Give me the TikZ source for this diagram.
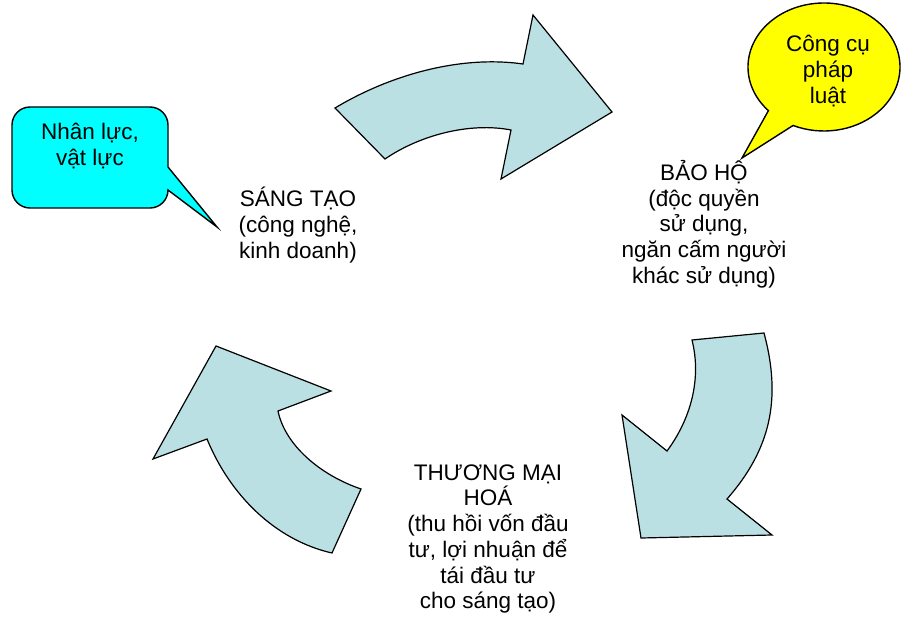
\documentclass[tikz,border=0pt]{standalone}
\usepackage{fontspec}
\setmainfont{Liberation Sans}
\definecolor{arrowfill}{HTML}{BBE0E3}
\definecolor{calloutcyan}{HTML}{00FFFF}
\definecolor{calloutyellow}{HTML}{FFFF00}
\begin{document}
\begin{tikzpicture}[x=1pt,y=-1pt,
  bigarrow/.style={fill=arrowfill,draw=black,line width=1.2pt,line join=miter},
  callout/.style={draw=black,line width=1.4pt,line join=miter},
  lbl/.style={align=center,font=\fontsize{22.5}{25.7}\selectfont,inner sep=0pt,text=black}]
\useasboundingbox (0,0) rectangle (902,620);
\fill[white] (0,0) rectangle (902,620);

% top arrow (SANG TAO -> BAO HO)
\draw[bigarrow] (335,108) .. controls (390,75) and (460,55) .. (523,64)
  -- (533,15) -- (612,112) -- (501,179) -- (511,130)
  .. controls (470,122) and (420,135) .. (385,159) -- cycle;

% right arrow (BAO HO -> THUONG MAI HOA)
\draw[bigarrow] (692,340) -- (764,333)
  .. controls (782,400) and (770,450) .. (727,499)
  -- (772,535) -- (641,538) -- (622,415) -- (667,451)
  .. controls (690,420) and (702,380) .. (692,340) -- cycle;

% left arrow (THUONG MAI HOA -> SANG TAO)
\draw[bigarrow] (332,553) -- (361,489)
  .. controls (320,475) and (285,445) .. (278,411)
  -- (331,391) -- (216,346) -- (153,459) -- (207,439)
  .. controls (230,495) and (275,540) .. (332,553) -- cycle;

% cyan callout
\draw[callout,fill=calloutcyan] (30,107) -- (150,107)
  arc[start angle=-90,end angle=0,radius=18] -- (168,167) -- (217,227) -- (168,190)
  arc[start angle=0,end angle=90,radius=18] -- (30,208)
  arc[start angle=90,end angle=180,radius=18] -- (12,125)
  arc[start angle=180,end angle=270,radius=18] -- cycle;
\node[lbl] (nhanluc) at (90,146) {Nhân lực,\\vật lực};

% yellow callout
\draw[callout,fill=calloutyellow] (742,158) -- ([shift={(137:76 and 64)}]824,67)
  arc[start angle=137,end angle=474,x radius=76,y radius=64] -- cycle;
\node[lbl] (congcu) at (828,71) {Công cụ\\pháp\\luật};

% labels
\node[lbl] (sangtao) at (298,225) {SÁNG TẠO\\(công nghệ,\\kinh doanh)};
\node[lbl] (baoho) at (704,224) {BẢO HỘ\\(độc quyền\\sử dụng,\\ngăn cấm người\\khác sử dụng)};
\node[lbl] (thuongmai) at (488,539) {THƯƠNG MẠI\\HOÁ\\(thu hồi vốn đầu\\tư, lợi nhuận để\\tái đầu tư\\cho sáng tạo)};
\end{tikzpicture}
\end{document}
